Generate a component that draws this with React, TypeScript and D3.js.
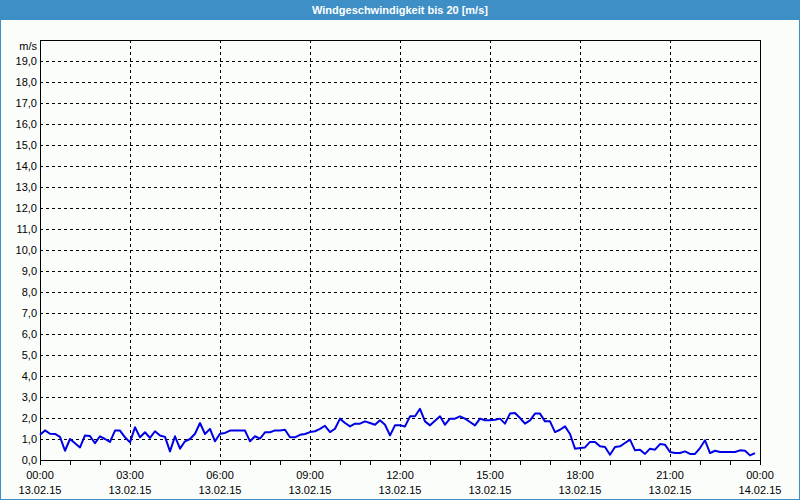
import React from "react";
import * as d3 from "d3";

const TITLE = "Windgeschwindigkeit bis 20 [m/s]";
const UNIT = "m/s";
const START = Date.UTC(2015, 1, 13, 0, 0);
const END = Date.UTC(2015, 1, 14, 0, 0);
const STEP_MIN = 10;

// wind speed every 10 minutes, 13.02.15 00:00 .. 23:50
const speeds: number[] = [
  1.2, 1.41, 1.25, 1.24, 1.1, 0.44, 1.0, 0.8, 0.6, 1.17,
  1.14, 0.8, 1.13, 1.0, 0.86, 1.4, 1.4, 1.08, 0.84, 1.56,
  1.08, 1.32, 1.05, 1.37, 1.17, 1.1, 0.41, 1.13, 0.54, 0.89,
  1.0, 1.25, 1.76, 1.24, 1.48, 0.89, 1.25, 1.29, 1.4, 1.4,
  1.4, 1.4, 0.89, 1.13, 1.02, 1.32, 1.32, 1.41, 1.41, 1.44,
  1.08, 1.08, 1.2, 1.24, 1.33, 1.37, 1.48, 1.63, 1.33, 1.49,
  1.97, 1.76, 1.6, 1.73, 1.73, 1.84, 1.76, 1.68, 1.89, 1.68,
  1.17, 1.65, 1.65, 1.6, 2.08, 2.08, 2.44, 1.84, 1.65, 1.87,
  2.08, 1.68, 1.97, 1.97, 2.08, 1.97, 1.81, 1.65, 1.97, 1.89,
  1.89, 1.92, 1.97, 1.73, 2.21, 2.24, 2.0, 1.73, 1.89, 2.21,
  2.21, 1.84, 1.84, 1.33, 1.44, 1.6, 1.24, 0.54, 0.57, 0.6,
  0.86, 0.86, 0.65, 0.62, 0.25, 0.62, 0.65, 0.81, 0.97, 0.46,
  0.49, 0.29, 0.54, 0.49, 0.76, 0.73, 0.38, 0.33, 0.33, 0.41,
  0.29, 0.29, 0.57, 0.94, 0.33, 0.44, 0.38, 0.38, 0.38, 0.38,
  0.46, 0.44, 0.22, 0.33,
];

const yTicks: number[] = d3.range(0, 20, 1);
const timeLabels: string[] = ["00:00", "03:00", "06:00", "09:00", "12:00", "15:00", "18:00", "21:00", "00:00"];
const dateLabels: string[] = ["13.02.15", "13.02.15", "13.02.15", "13.02.15", "13.02.15", "13.02.15", "13.02.15", "13.02.15", "14.02.15"];

const W = 800;
const H = 500;
const L = 40;
const R = 760;
const T = 40;
const B = 460;
const FONT = "'Liberation Sans', Arial, sans-serif";

export default function App() {
  const x = d3.scaleUtc().domain([new Date(START), new Date(END)]).range([L, R]);
  const y = d3.scaleLinear().domain([0, 20]).range([B, T]);
  const data = speeds.map((v, i) => ({ t: new Date(START + i * STEP_MIN * 60000), v }));
  const line = d3
    .line<{ t: Date; v: number }>()
    .x((d) => x(d.t))
    .y((d) => y(d.v));
  const majorTicks = d3.range(0, 9).map((k) => new Date(START + k * 3 * 3600000));
  const minorTicks = d3.range(0, 25).map((k) => new Date(START + k * 3600000));

  return (
    <svg
      width={W}
      height={H}
      style={{ position: "absolute", left: 0, top: 0, display: "block" }}
      fontFamily={FONT}
    >
      <rect x={0} y={0} width={W} height={H} fill="#3d8fc6" />
      <rect x={1} y={20} width={W - 2} height={H - 21} fill="#fbfdfb" />
      <text x={W / 2} y={14} textAnchor="middle" fill="#ffffff" fontSize={11} fontWeight="bold">
        {TITLE}
      </text>
      {/* horizontal grid */}
      {yTicks.slice(1).map((v) => (
        <line
          key={"h" + v}
          x1={L}
          x2={R}
          y1={Math.round(y(v)) + 0.5}
          y2={Math.round(y(v)) + 0.5}
          stroke="#000"
          strokeWidth={1}
          strokeDasharray="3,3"
          shapeRendering="crispEdges"
        />
      ))}
      {/* vertical grid */}
      {majorTicks.slice(1, -1).map((d, i) => (
        <line
          key={"v" + i}
          x1={Math.round(x(d)) + 0.5}
          x2={Math.round(x(d)) + 0.5}
          y1={T}
          y2={B}
          stroke="#000"
          strokeWidth={1}
          strokeDasharray="3,3"
          shapeRendering="crispEdges"
        />
      ))}
      {/* frame */}
      <rect
        x={L + 0.5}
        y={T + 0.5}
        width={R - L}
        height={B - T}
        fill="none"
        stroke="#000"
        strokeWidth={1}
        shapeRendering="crispEdges"
      />
      {/* minor ticks */}
      {minorTicks.map((d, i) => (
        <line
          key={"m" + i}
          x1={Math.round(x(d)) + 0.5}
          x2={Math.round(x(d)) + 0.5}
          y1={B}
          y2={B + 5}
          stroke="#000"
          strokeWidth={1}
          shapeRendering="crispEdges"
        />
      ))}
      {/* y labels */}
      {yTicks.map((v) => (
        <text key={"yl" + v} x={L - 3} y={y(v) + 4} textAnchor="end" fontSize={11} fill="#000">
          {v.toFixed(1).replace(".", ",")}
        </text>
      ))}
      <text x={L - 3} y={50} textAnchor="end" fontSize={11} fill="#000">
        {UNIT}
      </text>
      {/* x labels */}
      {majorTicks.map((d, i) => (
        <g key={"xl" + i}>
          <text x={x(d)} y={479} textAnchor="middle" fontSize={11} fill="#000">
            {timeLabels[i]}
          </text>
          <text x={x(d)} y={494} textAnchor="middle" fontSize={11} fill="#000">
            {dateLabels[i]}
          </text>
        </g>
      ))}
      <path d={line(data) || ""} fill="none" stroke="#0000e6" strokeWidth={2} strokeLinejoin="round" />
    </svg>
  );
}
